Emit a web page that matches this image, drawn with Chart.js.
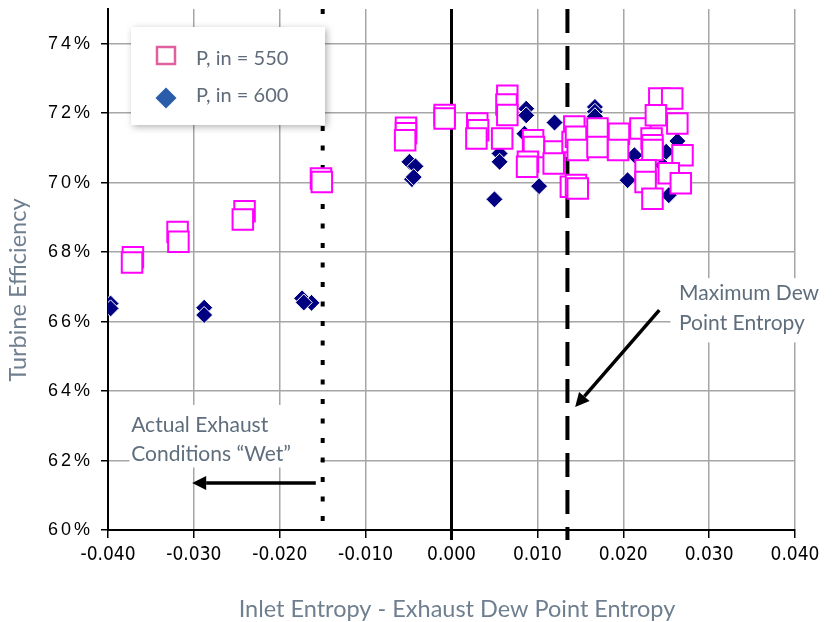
<!DOCTYPE html>
<html>
<head>
<meta charset="utf-8">
<script src="https://cdn.jsdelivr.net/npm/chart.js@4.4.1/dist/chart.umd.min.js"></script>
<style>
  html, body { margin: 0; padding: 0; background: #fff; }
</style>
</head>
<body>
<canvas id="myChart" width="833" height="622"></canvas>
<script>
// P, in = 550 (open squares)
const p550X = [-0.0371, -0.0372, -0.0319, -0.0318, -0.0241, -0.0243, -0.0152, -0.0151,
  -0.0053, -0.0053, -0.0054, -0.0008, -0.0008, 0.0030, 0.0031, 0.0029,
  0.0065, 0.0064, 0.0065, 0.0059, 0.0095, 0.0096, 0.0089, 0.0088,
  0.0120, 0.0119, 0.0143, 0.0141, 0.0139, 0.0145, 0.0147, 0.0145, 0.0147,
  0.0170, 0.0170, 0.0195, 0.0194, 0.0220, 0.0233, 0.0234, 0.0234,
  0.0226, 0.0226, 0.0234, 0.0242, 0.0257, 0.0238, 0.0263, 0.0269, 0.0253, 0.0267];
const p550Y = [67.85, 67.70, 68.58, 68.30, 69.18, 68.94, 70.12, 70.02,
  71.58, 71.42, 71.22, 71.95, 71.85, 71.70, 71.51, 71.27,
  72.50, 72.25, 71.95, 71.27, 71.22, 71.03, 70.60, 70.46,
  70.90, 70.55, 71.62, 71.17, 69.88, 71.32, 70.94, 69.93, 69.83,
  71.56, 71.03, 71.41, 70.94, 71.56, 71.27, 71.08, 70.94,
  70.36, 70.02, 69.54, 72.42, 72.42, 71.94, 71.70, 70.79, 70.27, 69.98];

// P, in = 600 (filled diamonds)
const p600X = [-0.0397, -0.0397, -0.0288, -0.0288, -0.0174, -0.0163, -0.0172,
  -0.0049, -0.0042, -0.0046, -0.0044, 0.0087, 0.0087, 0.0085, 0.0056, 0.0056, 0.0050,
  0.0088, 0.0120, 0.0102, 0.0167, 0.0167, 0.0167, 0.0213, 0.0205,
  0.0263, 0.0246, 0.0253, 0.0250];
const p600Y = [66.52, 66.38, 66.40, 66.19, 66.67, 66.54, 66.55,
  70.60, 70.47, 70.10, 70.16, 72.13, 71.94, 71.41, 70.84, 70.60, 69.52,
  70.35, 71.73, 69.90, 72.18, 72.04, 71.91, 70.79, 70.07,
  71.20, 70.50, 69.64, 70.89];

// axes
const xRange = [-0.04, 0.04];
const xStep = 0.01;
const yRange = [60, 75];
const yStep = 2;

// vertical reference lines: dotted (wet limit), solid (zero), dashed (max dew point)
const refX = [-0.015, 0, 0.0135];

const titleFont = 'Lato, "Open Sans", sans-serif';
const noteColor = '#5f6e7d';

function toPoints(xs, ys) {
  return xs.map((x, i) => ({ x: x, y: ys[i] }));
}

function arrow(ctx, x1, y1, x2, y2) {
  const a = Math.atan2(y2 - y1, x2 - x1);
  const head = 14, half = 7;
  const bx = x2 - head * Math.cos(a), by = y2 - head * Math.sin(a);
  ctx.beginPath();
  ctx.moveTo(x1, y1);
  ctx.lineTo(bx, by);
  ctx.stroke();
  ctx.beginPath();
  ctx.moveTo(x2, y2);
  ctx.lineTo(bx + half * Math.sin(a), by - half * Math.cos(a));
  ctx.lineTo(bx - half * Math.sin(a), by + half * Math.cos(a));
  ctx.closePath();
  ctx.fill();
}

// plot top sits close to the canvas edge; y tick labels are spaced out,
// x labels (drawn after datasets) are not
const layoutFix = {
  id: 'layoutFix',
  afterLayout(chart) {
    const ys = chart.scales.y;
    const t = 9;
    ys.top = t;
    ys.height = ys.bottom - t;
    ys.configure();
    chart.chartArea.top = t;
    chart.chartArea.height = chart.chartArea.bottom - t;
  },
  beforeDraw(chart) { chart.ctx.letterSpacing = '3px'; },
  beforeDatasetsDraw(chart) { chart.ctx.letterSpacing = '0px'; }
};

const decorations = {
  id: 'decorations',
  beforeDatasetsDraw(chart) {
    const ctx = chart.ctx;
    const xs = chart.scales.x, ys = chart.scales.y;
    const top = chart.chartArea.top, bottom = chart.chartArea.bottom;
    ctx.save();

    // text boxes hiding the grid
    ctx.fillStyle = '#fff';
    ctx.fillRect(xs.getPixelForValue(-0.0375), ys.getPixelForValue(63.6),
      xs.getPixelForValue(-0.0153) - xs.getPixelForValue(-0.0375),
      ys.getPixelForValue(61.8) - ys.getPixelForValue(63.6));
    ctx.fillRect(xs.getPixelForValue(0.0255), ys.getPixelForValue(67.25), 170,
      ys.getPixelForValue(65.4) - ys.getPixelForValue(67.25));

    ctx.strokeStyle = '#000';
    // dotted
    let px = xs.getPixelForValue(refX[0]);
    ctx.lineWidth = 4;
    ctx.setLineDash([5, 14.5]);
    ctx.beginPath(); ctx.moveTo(px, top); ctx.lineTo(px, bottom + 4); ctx.stroke();
    // solid
    px = xs.getPixelForValue(refX[1]);
    ctx.lineWidth = 3;
    ctx.setLineDash([]);
    ctx.beginPath(); ctx.moveTo(px, top); ctx.lineTo(px, bottom + 10); ctx.stroke();
    // dashed
    px = xs.getPixelForValue(refX[2]);
    ctx.lineWidth = 4;
    ctx.setLineDash([24, 13]);
    ctx.beginPath(); ctx.moveTo(px, top); ctx.lineTo(px, bottom + 10); ctx.stroke();
    ctx.setLineDash([]);

    // notes
    ctx.fillStyle = noteColor;
    ctx.font = '21px ' + titleFont;
    ctx.textAlign = 'left';
    ctx.textBaseline = 'alphabetic';
    ctx.fillText('Actual Exhaust', xs.getPixelForValue(-0.0373), ys.getPixelForValue(62.83));
    ctx.fillText('Conditions \u201CWet\u201D', xs.getPixelForValue(-0.0373), ys.getPixelForValue(61.99));
    ctx.fillText('Maximum Dew', xs.getPixelForValue(0.0265), ys.getPixelForValue(66.62));
    ctx.fillText('Point Entropy', xs.getPixelForValue(0.0265), ys.getPixelForValue(65.76));

    // arrows
    ctx.strokeStyle = '#000';
    ctx.fillStyle = '#000';
    ctx.lineWidth = 3.5;
    arrow(ctx, xs.getPixelForValue(-0.0158), ys.getPixelForValue(61.35),
      xs.getPixelForValue(-0.0302), ys.getPixelForValue(61.35));
    arrow(ctx, xs.getPixelForValue(0.0242), ys.getPixelForValue(66.33),
      xs.getPixelForValue(0.0144), ys.getPixelForValue(63.54));
    ctx.restore();
  },
  afterDraw(chart) {
    const ctx = chart.ctx;
    ctx.save();
    ctx.letterSpacing = '0px';

    // axis titles
    ctx.fillStyle = '#6f7f8f';
    ctx.font = '23.5px ' + titleFont;
    ctx.textAlign = 'center';
    ctx.textBaseline = 'alphabetic';
    ctx.fillText('Inlet Entropy - Exhaust Dew Point Entropy', 457, 617);
    ctx.translate(26, 290);
    ctx.rotate(-Math.PI / 2);
    ctx.fillText('Turbine Efficiency', 0, 0);
    ctx.restore();

    // legend
    ctx.save();
    ctx.shadowColor = 'rgba(0,0,0,0.3)';
    ctx.shadowBlur = 7;
    ctx.shadowOffsetX = 2;
    ctx.shadowOffsetY = 2;
    ctx.fillStyle = '#fff';
    ctx.fillRect(131, 27, 194, 98);
    ctx.restore();

    ctx.save();
    ctx.letterSpacing = '0px';
    ctx.strokeStyle = '#e0609f';
    ctx.lineWidth = 2.5;
    ctx.strokeRect(157, 47, 18, 17);
    ctx.fillStyle = '#2a5caa';
    ctx.beginPath();
    ctx.moveTo(166, 87.5); ctx.lineTo(176.5, 98); ctx.lineTo(166, 108.5); ctx.lineTo(155.5, 98);
    ctx.closePath(); ctx.fill();
    ctx.fillStyle = '#5f6b78';
    ctx.font = '20px ' + titleFont;
    ctx.textAlign = 'left';
    ctx.textBaseline = 'alphabetic';
    ctx.fillText(chart.data.datasets[0].label, 196, 65);
    ctx.fillText(chart.data.datasets[1].label, 196, 102);
    ctx.restore();
  }
};

const config = {
  type: 'scatter',
  data: {
    datasets: [
      {
        label: 'P, in = 550',
        data: toPoints(p550X, p550Y),
        pointStyle: 'rect',
        pointRadius: 14.5,
        pointBackgroundColor: '#fff',
        pointBorderColor: '#ff00ff',
        pointBorderWidth: 2,
        order: 0
      },
      {
        label: 'P, in = 600',
        data: toPoints(p600X, p600Y),
        pointStyle: 'rectRot',
        pointRadius: 8.5,
        pointBackgroundColor: '#000080',
        pointBorderColor: '#fff',
        pointBorderWidth: 1,
        order: 1
      }
    ]
  },
  options: {
    responsive: false,
    animation: false,
    layout: { padding: { top: 1, right: 38, left: 0, bottom: 0 } },
    plugins: { legend: { display: false }, tooltip: { enabled: false } },
    scales: {
      x: {
        type: 'linear',
        min: xRange[0],
        max: xRange[1],
        afterFit: s => { s.height = 92; s.paddingLeft = 0; s.paddingRight = 0; },
        ticks: {
          z: 1,
          stepSize: xStep,
          autoSkip: false,
          maxRotation: 0,
          padding: 6,
          color: '#000',
          font: { family: '"Liberation Sans Narrow", "DejaVu Sans Condensed", sans-serif', size: 19 },
          callback: v => Math.abs(v) < 1e-9 ? '0.000' : v.toFixed(3)
        },
        grid: { color: '#a6a6a6', lineWidth: 1.5, tickColor: '#000', tickLength: 8, tickWidth: 1.5 },
        border: { color: '#000', width: 2 }
      },
      y: {
        min: yRange[0],
        max: yRange[1],
        afterFit: s => { s.width = 108; s.paddingTop = 0; s.paddingBottom = 0; },
        afterBuildTicks: s => { s.ticks = s.ticks.filter(t => (t.value - yRange[0]) % yStep === 0); },
        ticks: {
          stepSize: yStep,
          padding: 8,
          color: '#000',
          font: { family: '"Liberation Sans", Arial, sans-serif', size: 18 },
          callback: v => v + '%'
        },
        grid: { color: '#a6a6a6', lineWidth: 1.5, tickColor: '#000', tickLength: 7, tickWidth: 1.5 },
        border: { color: '#000', width: 2 }
      }
    }
  },
  plugins: [layoutFix, decorations]
};

const myChart = new Chart(document.getElementById('myChart'), config);
</script>
</body>
</html>
